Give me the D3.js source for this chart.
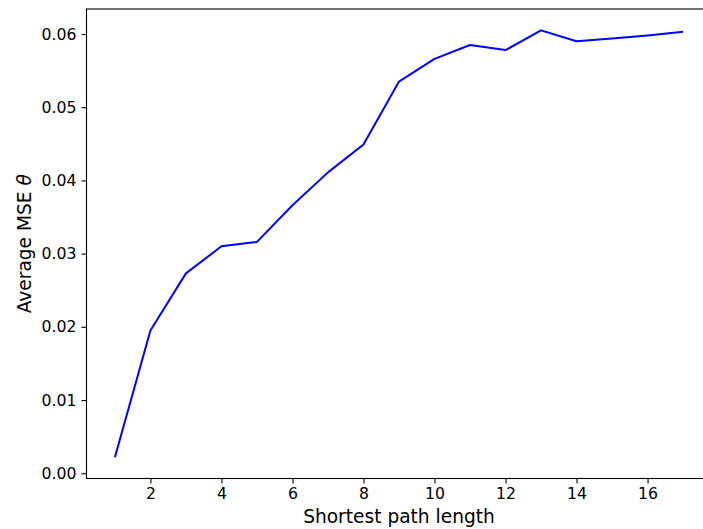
<!DOCTYPE html>
<html>
<head>
<meta charset="utf-8">
<script src="https://cdn.jsdelivr.net/npm/d3@7"></script>
<style>
  html, body { margin: 0; padding: 0; background: #fff; }
  svg { display: block; font-family: "DejaVu Sans", sans-serif; }
</style>
</head>
<body>
<svg id="chart" width="703" height="529"></svg>
<script>
// Shortest path length vs. average MSE of theta
const pathLengths = [1, 2, 3, 4, 5, 6, 7, 8, 9, 10, 11, 12, 13, 14, 15, 16, 17];
const avgMse = [0.0022, 0.0195, 0.0273, 0.0310, 0.0316, 0.0366, 0.0411, 0.0449, 0.0535, 0.0566, 0.0585, 0.0578, 0.0605, 0.0590, 0.0594, 0.0598, 0.0603];
const xTicks = [2, 4, 6, 8, 10, 12, 14, 16];
const yTicks = [0.00, 0.01, 0.02, 0.03, 0.04, 0.05, 0.06];

const svg = d3.select("#chart");
const plotLeft = 86.5, plotTop = 9, plotBottom = 478.5, plotRight = 711.5;

// axis limits padded by 5% of the data range on each side
const xMin = d3.min(pathLengths), xMax = d3.max(pathLengths);
const xPad = (xMax - xMin) * 0.05;
const yMin = d3.min(avgMse), yMax = d3.max(avgMse);
const yPad = (yMax - yMin) * 0.05;

const x = d3.scaleLinear().domain([xMin - xPad, xMax + xPad]).range([plotLeft, plotRight]);
const y = d3.scaleLinear().domain([yMin - yPad, yMax + yPad]).range([plotBottom, plotTop]);

// data line
svg.append("path")
  .datum(pathLengths.map((d, i) => [d, avgMse[i]]))
  .attr("fill", "none")
  .attr("stroke", "#0000ff")
  .attr("stroke-width", 2)
  .attr("stroke-linejoin", "round")
  .attr("d", d3.line().x(d => x(d[0])).y(d => y(d[1])));

// frame
svg.append("rect")
  .attr("x", plotLeft).attr("y", plotTop)
  .attr("width", plotRight - plotLeft).attr("height", plotBottom - plotTop)
  .attr("fill", "none").attr("stroke", "#000").attr("stroke-width", 1.1);

const xAxis = svg.append("g")
  .attr("transform", `translate(0,${plotBottom})`)
  .call(d3.axisBottom(x).tickValues(xTicks).tickSize(5).tickPadding(4).tickFormat(d3.format("d")));
const yAxis = svg.append("g")
  .attr("transform", `translate(${plotLeft},0)`)
  .call(d3.axisLeft(y).tickValues(yTicks).tickSize(5).tickPadding(5).tickFormat(d3.format(".2f")));

[xAxis, yAxis].forEach(g => {
  g.select(".domain").remove();
  g.selectAll(".tick line").attr("stroke", "#000").attr("stroke-width", 1.1);
  g.selectAll(".tick text")
    .attr("fill", "#000")
    .style("font-family", "'DejaVu Sans', sans-serif")
    .style("font-size", "15.7px");
});

// axis titles
svg.append("text")
  .attr("x", (plotLeft + plotRight) / 2)
  .attr("y", 523)
  .attr("text-anchor", "middle")
  .style("font-size", "18.6px")
  .attr("fill", "#000")
  .text("Shortest path length");

const yl = svg.append("text")
  .attr("transform", `translate(30.5,${(plotTop + plotBottom) / 2}) rotate(-90)`)
  .attr("text-anchor", "middle")
  .style("font-size", "18.6px")
  .attr("fill", "#000");
yl.append("tspan").text("Average MSE ");
yl.append("tspan").style("font-style", "italic").text("θ");
</script>
</body>
</html>
